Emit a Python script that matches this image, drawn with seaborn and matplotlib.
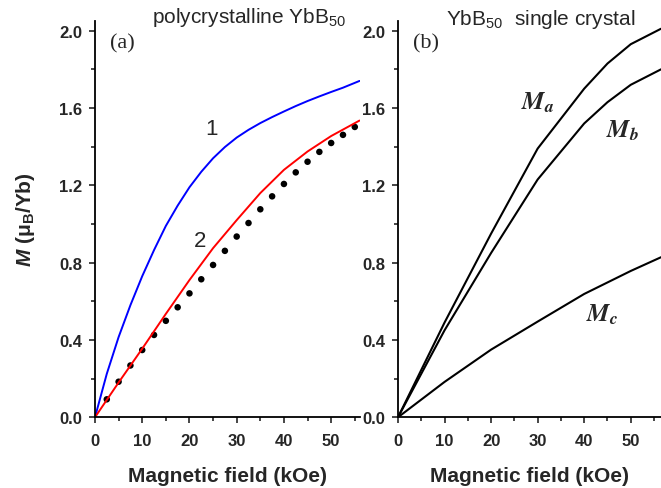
import numpy as np
import pandas as pd
import seaborn as sns
import matplotlib.pyplot as plt
from matplotlib.ticker import MultipleLocator, FormatStrFormatter

# panel (a): polycrystalline sample
field_dots = [2.5, 5, 7.5, 10, 12.5, 15, 17.5, 20, 22.5, 25, 27.5,
              30, 32.5, 35, 37.5, 40, 42.5, 45, 47.5, 50, 52.5, 55]
m_dots = [0.093, 0.184, 0.268, 0.348, 0.426, 0.499, 0.569, 0.641, 0.714, 0.788, 0.861,
          0.935, 1.005, 1.076, 1.143, 1.207, 1.267, 1.322, 1.373, 1.419, 1.461, 1.502]

field_1 = [0, 2.5, 5, 7.5, 10, 12.5, 15, 17.5, 20, 22.5, 25, 27.5, 30,
           32.5, 35, 37.5, 40, 42.5, 45, 47.5, 50, 52.5, 56]
m_1 = [0, 0.225, 0.415, 0.58, 0.73, 0.865, 0.99, 1.095, 1.19, 1.27, 1.34, 1.398, 1.447,
       1.487, 1.522, 1.553, 1.582, 1.61, 1.636, 1.66, 1.683, 1.705, 1.74]

field_2 = [0, 5, 10, 15, 20, 25, 30, 35, 40, 45, 50, 56]
m_2 = [0, 0.18, 0.355, 0.535, 0.71, 0.875, 1.02, 1.16, 1.28, 1.375, 1.455, 1.535]

# panel (b): single crystal, three directions
field_b = [0, 10, 20, 30, 40, 45, 50, 56.5]
m_a = [0, 0.49, 0.95, 1.39, 1.70, 1.83, 1.93, 2.01]
m_b = [0, 0.45, 0.85, 1.23, 1.52, 1.63, 1.72, 1.80]
field_c = [0, 10, 20, 30, 40, 50, 56.5]
m_c = [0, 0.183, 0.35, 0.495, 0.638, 0.757, 0.828]

sns.set_style('ticks')
plt.rcParams['font.family'] = ['Liberation Sans', 'DejaVu Sans']
plt.rcParams['mathtext.fontset'] = 'custom'
plt.rcParams['mathtext.rm'] = 'Liberation Sans'
plt.rcParams['mathtext.it'] = 'Liberation Sans:italic'
plt.rcParams['mathtext.bf'] = 'Liberation Sans:bold'
plt.rcParams['mathtext.bfit'] = 'Liberation Sans:italic:bold'

fig = plt.figure(figsize=(6.61, 4.89), dpi=100)
ax1 = fig.add_axes([0.1437, 0.1446, 0.4009, 0.8104])
ax2 = fig.add_axes([0.6021, 0.1446, 0.3979, 0.8104])

sns.lineplot(x=field_1, y=m_1, ax=ax1, color='#0000ff', lw=1.4)
sns.lineplot(x=field_2, y=m_2, ax=ax1, color='#ff0000', lw=1.4)
sns.scatterplot(x=field_dots, y=m_dots, ax=ax1, color='black', s=22, edgecolor='none')

sns.lineplot(x=field_b, y=m_a, ax=ax2, color='black', lw=1.5)
sns.lineplot(x=field_b, y=m_b, ax=ax2, color='black', lw=1.5)
sns.lineplot(x=field_c, y=m_c, ax=ax2, color='black', lw=1.5)

for ax, xmax in [(ax1, 56.1), (ax2, 56.5)]:
    ax.set_xlim(0, xmax)
    ax.set_ylim(0, 2.05)
    ax.xaxis.set_major_locator(MultipleLocator(10))
    ax.xaxis.set_minor_locator(MultipleLocator(5))
    ax.yaxis.set_major_locator(MultipleLocator(0.4))
    ax.yaxis.set_minor_locator(MultipleLocator(0.2))
    ax.yaxis.set_major_formatter(FormatStrFormatter('%.1f'))
    ax.tick_params(which='both', direction='out', width=1.2, labelsize=12)
    ax.tick_params(axis='x', pad=7)
    ax.tick_params(axis='y', pad=5)
    ax.tick_params(which='major', length=4)
    ax.tick_params(which='minor', length=3)
    for lab in ax.get_xticklabels() + ax.get_yticklabels():
        lab.set_fontweight('bold')
    for side in ['top', 'right']:
        ax.spines[side].set_visible(False)
    for side in ['left', 'bottom']:
        ax.spines[side].set_linewidth(1.3)
        ax.spines[side].set_color('black')
    ax.set_xlabel('Magnetic field (kOe)', fontsize=15, fontweight='bold', labelpad=13)

ax1.set_ylabel(r'$\mathbfit{M}$ (μ$_\mathbf{B}$/Yb)', fontsize=15, fontweight='bold', labelpad=16)

ax1.text(24.7, 1.466, '1', fontsize=16, ha='center', va='baseline')
ax1.text(22.2, 0.888, '2', fontsize=16, ha='center', va='baseline')

ax2.text(26.5, 1.595, r'$\mathbfit{M}_{\mathbfit{a}}$', fontsize=18, ha='left', va='baseline', math_fontfamily='stix')
ax2.text(44.7, 1.449, r'$\mathbfit{M}_{\mathbfit{b}}$', fontsize=18, ha='left', va='baseline', math_fontfamily='stix')
ax2.text(40.4, 0.50, r'$\mathbfit{M}_{\mathbfit{c}}$', fontsize=18, ha='left', va='baseline', math_fontfamily='stix')

fig.text(110 / 661, 1 - 48 / 489, '(a)', family='Liberation Serif', fontsize=16, va='baseline')
fig.text(413 / 661, 1 - 48 / 489, '(b)', family='Liberation Serif', fontsize=16, va='baseline')

fig.text(152 / 661, 1 - 23 / 489, r'polycrystalline YbB$_{50}$', fontsize=15, va='baseline')
fig.text(446 / 661, 1 - 25 / 489, r'YbB$_{50}$  single crystal', fontsize=15, va='baseline')

fig.savefig('out.png', dpi=100)
